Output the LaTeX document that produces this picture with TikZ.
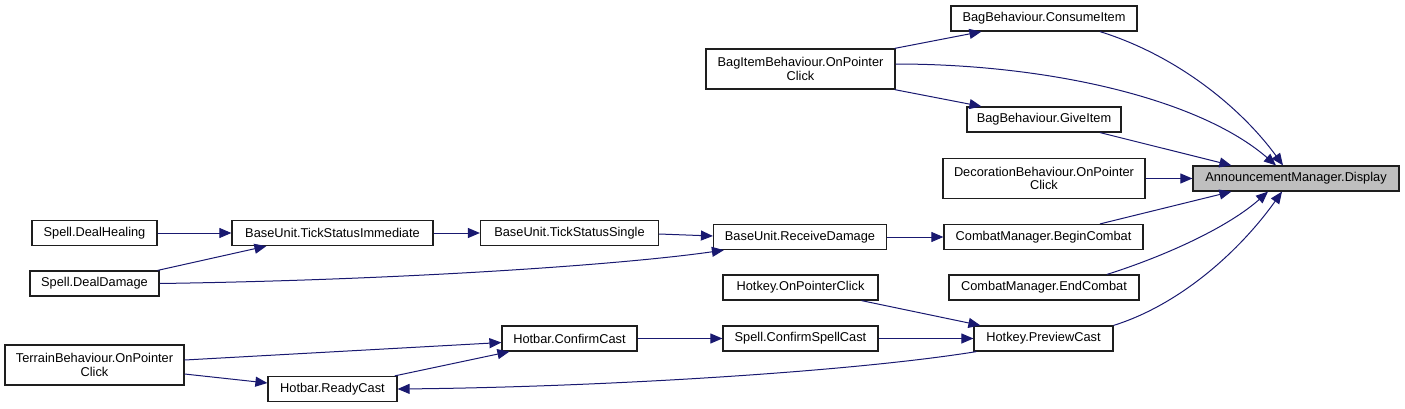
\documentclass[tikz,border=0pt]{standalone}
\usepackage{fontspec}
\setmainfont{Liberation Sans}
\usetikzlibrary{arrows.meta,calc}

\definecolor{edgeblue}{RGB}{25,25,112}
\definecolor{nodegray}{RGB}{191,191,191}

\tikzset{
  fn/.style={draw={rgb,255:red,30;green,30;blue,30}, line width=0.9pt, fill=white, inner sep=0pt,
    minimum height=25*0.75pt, align=center, font=\fontsize{9.6}{10}\selectfont},
  fntwo/.style={fn, minimum height=40*0.75pt},
  call/.style={draw=edgeblue, line width=0.75pt, -{Triangle[length=9pt,width=7.5pt]}},
}

\begin{document}
\begin{tikzpicture}[x=0.75pt,y=0.75pt,yscale=-1,xscale=1]
\useasboundingbox (0,0) rectangle (1405,408);
% Text Node
\node [fn, fill=nodegray, minimum width=206*0.75pt] (disp) at (1296,178.5) {AnnouncementManager.Display};
% Text Node
\node [fn, minimum width=186*0.75pt] (cons) at (1044,18.5) {BagBehaviour.ConsumeItem};
% Text Node
\node [fntwo, minimum width=189*0.75pt] (bagitem) at (800.5,69) {BagItemBehaviour.OnPointer\\Click};
% Text Node
\node [fn, minimum width=154*0.75pt] (give) at (1044,119.5) {BagBehaviour.GiveItem};
% Text Node
\node [fntwo, minimum width=202*0.75pt] (deco) at (1044,178.5) {DecorationBehaviour.OnPointer\\Click};
% Text Node
\node [fn, minimum width=199*0.75pt] (begin) at (1043.5,237) {CombatManager.BeginCombat};
% Text Node
\node [fn, minimum width=190*0.75pt] (endc) at (1044,287.5) {CombatManager.EndCombat};
% Text Node
\node [fn, minimum width=139*0.75pt] (preview) at (1043.5,338.5) {Hotkey.PreviewCast};
% Text Node
\node [fn, minimum width=173*0.75pt] (recv) at (800,237) {BaseUnit.ReceiveDamage};
% Text Node
\node [fn, minimum width=155*0.75pt] (okclick) at (800.5,287.5) {Hotkey.OnPointerClick};
% Text Node
\node [fn, minimum width=155*0.75pt] (spellcc) at (800.5,338.5) {Spell.ConfirmSpellCast};
% Text Node
\node [fn, minimum width=178*0.75pt] (tsingle) at (569.5,233) {BaseUnit.TickStatusSingle};
% Text Node
\node [fn, minimum width=135*0.75pt] (confirm) at (569.5,338.5) {Hotbar.ConfirmCast};
% Text Node
\node [fn, minimum width=201*0.75pt] (timm) at (332.5,233) {BaseUnit.TickStatusImmediate};
% Text Node
\node [fn, minimum width=129*0.75pt] (readyc) at (332.5,389) {Hotbar.ReadyCast};
% Text Node
\node [fn, minimum width=125*0.75pt] (heal) at (94.5,233) {Spell.DealHealing};
% Text Node
\node [fn, minimum width=129*0.75pt] (dmg) at (94.5,283.5) {Spell.DealDamage};
% Text Node
\node [fntwo, minimum width=179*0.75pt] (terrain) at (94.5,365) {TerrainBehaviour.OnPointer\\Click};

% calls into AnnouncementManager.Display
\draw [call] ($(cons.south)+(56,0)$) .. controls +(80,25) and +(-40,-55) .. ($(disp.north)+(-13,0)$);
\draw [call] ($(bagitem.east)+(0,-5)$) .. controls +(155,0) and +(-76,-66) .. ($(disp.north)+(-20,0)$);
\draw [call] ($(give.south)+(56,0)$) -- ($(disp.north west)+(39,0)$);
\draw [call] (deco.east) -- (disp.west);
\draw [call] ($(begin.north)+(56.5,0)$) -- ($(disp.south west)+(39,0)$);
\draw [call] ($(endc.north)+(63,0)$) .. controls +(63,-20) and +(-38,34) .. ($(disp.south)+(-28,0)$);
\draw [call] (preview.north east) .. controls +(67,-21) and +(-42,59) .. ($(disp.south)+(-14,0)$);

% bag item
\draw [call] ($(bagitem.north east)+(-1,0)$) -- ($(cons.south west)+(31,0)$);
\draw [call] ($(bagitem.south east)+(-1,0)$) -- ($(give.north west)+(15,0)$);

% damage chain
\draw [call] (recv.east) -- (begin.west);
\draw [call] ($(tsingle.east)+(0,1)$) -- ($(recv.west)+(0,-1)$);
\draw [call] (dmg.east) .. controls (400,280) and (620,265) .. ($(recv.south west)+(11,0)$);
\draw [call] (timm.east) -- (tsingle.west);
\draw [call] (heal.east) -- (timm.west);
\draw [call] ($(dmg.north east)+(-2,0)$) -- ($(timm.south west)+(35,0)$);

% casting chain
\draw [call] ($(okclick.south)+(61,0)$) -- ($(preview.north west)+(7,0)$);
\draw [call] (spellcc.east) -- (preview.west);
\draw [call] (confirm.east) -- (spellcc.west);
\draw [call] ($(terrain.east)+(0,-5)$) -- ($(confirm.west)+(0,4)$);
\draw [call] ($(terrain.east)+(0,9)$) -- ($(readyc.west)+(0,-6)$);
\draw [call] ($(readyc.north east)+(-3,0)$) -- ($(confirm.south west)+(8,0)$);
\draw [call] ($(preview.south west)+(3,0)$) .. controls (850,372) and (600,387) .. (readyc.east);
\end{tikzpicture}
\end{document}
